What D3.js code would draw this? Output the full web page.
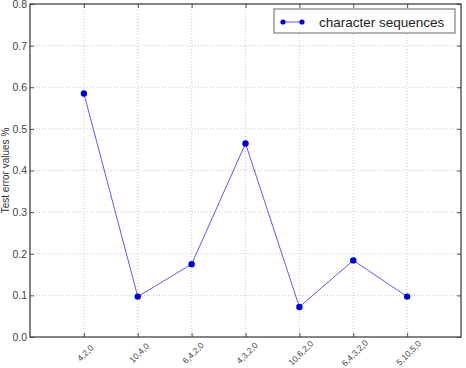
<!DOCTYPE html>
<html>
<head>
<meta charset="utf-8">
<script src="https://cdn.jsdelivr.net/npm/d3@7"></script>
<style>
  body { margin: 0; background: #fff; }
  svg { display: block; font-family: "Liberation Sans", Arial, sans-serif; }
</style>
</head>
<body>
<div id="wrapper"></div>
<script>
const categories = ["4,2,0", "10,4,0", "6,4,2,0", "4,3,2,0", "10,6,2,0", "6,4,3,2,0", "5,10,5,0"];
const errorValues = [0.585, 0.097, 0.175, 0.465, 0.072, 0.184, 0.097];
const yTicks = [0.0, 0.1, 0.2, 0.3, 0.4, 0.5, 0.6, 0.7, 0.8];
const seriesName = "character sequences";

const margin = { top: 4, right: 5, bottom: 31, left: 30 };
const width = 466 - margin.left - margin.right;
const height = 368 - margin.top - margin.bottom;

const svg = d3.select(`#wrapper`)
  .append(`svg`)
  .attr(`width`, 466)
  .attr(`height`, 368)
  .append(`g`)
  .attr(`transform`, `translate(${margin.left}, ${margin.top})`);

const xScale = d3.scaleLinear().domain([0, categories.length + 1]).range([0, width]);
const yScale = d3.scaleLinear().domain([0, 0.8]).range([height, 0]);

const xPos = categories.map((c, i) => i + 1);

// grid
svg.append(`g`).selectAll(`line`).data(xPos).join(`line`)
  .attr(`x1`, d => xScale(d)).attr(`x2`, d => xScale(d))
  .attr(`y1`, 0).attr(`y2`, height)
  .attr(`stroke`, `#c8c8c8`).attr(`stroke-dasharray`, `1,2`);
svg.append(`g`).selectAll(`line`).data(yTicks.slice(1, -1)).join(`line`)
  .attr(`y1`, d => yScale(d)).attr(`y2`, d => yScale(d))
  .attr(`x1`, 0).attr(`x2`, width)
  .attr(`stroke`, `#c8c8c8`).attr(`stroke-dasharray`, `1,2`);

// axes, ticks inside
const xAxis = svg.append(`g`).attr(`transform`, `translate(0, ${height})`)
  .call(d3.axisBottom(xScale).tickValues(xPos).tickSizeInner(-4).tickSizeOuter(0)
    .tickFormat((d, i) => categories[i]));
// rotated labels centred under the tick
xAxis.selectAll(`text`)
  .attr(`x`, 0).attr(`y`, 0).attr(`dy`, `0.35em`)
  .attr(`text-anchor`, `middle`)
  .attr(`transform`, `translate(1, 16) rotate(-45)`);

const yAxis = svg.append(`g`)
  .call(d3.axisLeft(yScale).tickValues(yTicks).tickSizeInner(-4).tickSizeOuter(0)
    .tickFormat(d3.format(`.1f`)));
yAxis.selectAll(`text`).attr(`x`, -3);

svg.append(`g`)
  .call(d3.axisTop(xScale).tickValues(xPos).tickSizeInner(-4).tickSizeOuter(0).tickFormat(``));
svg.append(`g`).attr(`transform`, `translate(${width}, 0)`)
  .call(d3.axisRight(yScale).tickValues(yTicks).tickSizeInner(-4).tickSizeOuter(0).tickFormat(``));

svg.selectAll(`.domain`).remove();
svg.selectAll(`.tick line`).attr(`stroke`, `#555`);
svg.selectAll(`.tick text`).attr(`fill`, `#444`);
xAxis.selectAll(`text`).attr(`font-size`, 8.5);
yAxis.selectAll(`text`).attr(`font-size`, 10.5);

svg.append(`rect`)
  .attr(`width`, width).attr(`height`, height)
  .attr(`fill`, `none`).attr(`stroke`, `#333`).attr(`stroke-width`, 1.2);

svg.append(`text`)
  .attr(`transform`, `translate(${-21}, ${height / 2}) rotate(-90)`)
  .attr(`text-anchor`, `middle`)
  .attr(`font-size`, 10)
  .attr(`fill`, `#333`)
  .text(`Test error values %`);

// series
const line = d3.line().x((d, i) => xScale(xPos[i])).y(d => yScale(d));
svg.append(`path`)
  .datum(errorValues)
  .attr(`d`, line)
  .attr(`fill`, `none`)
  .attr(`stroke`, `#5a5af0`)
  .attr(`stroke-width`, 1);

svg.selectAll(`.dot`).data(errorValues).join(`circle`)
  .attr(`class`, `dot`)
  .attr(`cx`, (d, i) => xScale(xPos[i]))
  .attr(`cy`, d => yScale(d))
  .attr(`r`, 3.2)
  .attr(`fill`, `#0000cc`);

// legend
const legend = svg.append(`g`).attr(`transform`, `translate(${width - 187}, 5)`);
legend.append(`rect`)
  .attr(`width`, 181).attr(`height`, 24)
  .attr(`fill`, `#fff`).attr(`stroke`, `#666`).attr(`stroke-width`, 1);
legend.append(`line`)
  .attr(`x1`, 9).attr(`x2`, 28).attr(`y1`, 13).attr(`y2`, 13)
  .attr(`stroke`, `#5a5af0`);
legend.selectAll(`circle`).data([9, 28]).join(`circle`)
  .attr(`cx`, d => d).attr(`cy`, 13).attr(`r`, 2.6).attr(`fill`, `#0000cc`);
legend.append(`text`)
  .attr(`x`, 45).attr(`y`, 17.5)
  .attr(`font-size`, 13.5)
  .attr(`fill`, `#222`)
  .text(seriesName);
</script>
</body>
</html>
